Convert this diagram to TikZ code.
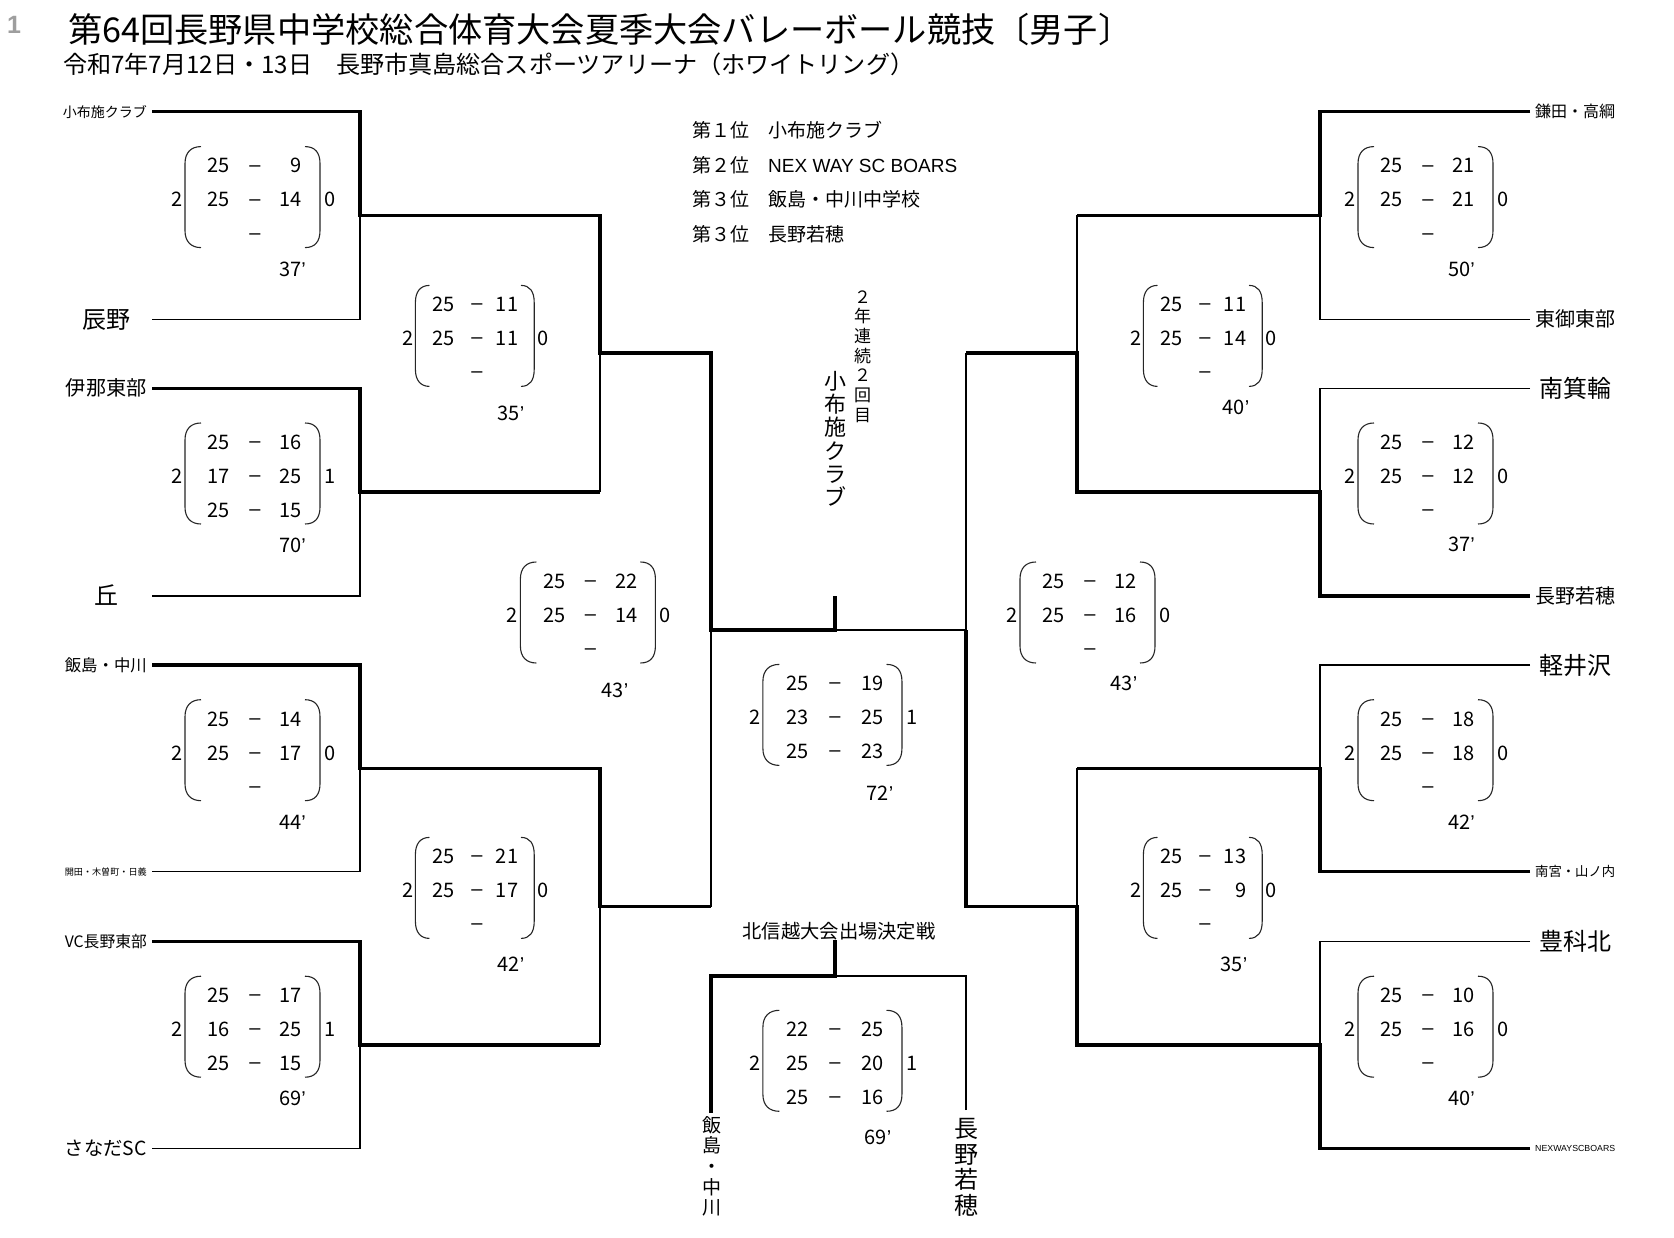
\documentclass[tikz,border=0pt]{standalone}
\usepackage{fontspec}
\usepackage{graphicx}
\setmainfont{Noto Sans CJK JP}
\newfontfamily\latf{Liberation Sans}
\newcommand\cstrut{\rule[-0.12em]{0pt}{1em}}
\newcommand\fitw[2]{\resizebox{#1}{!}{\cstrut#2}}
\newcommand\fsz[1]{\fontsize{#1}{#1}\selectfont}
% score block: #1 name, #2 x, #3 y, #4 width factor, #5 left, #6 right, #7 rows, #8 time pos, #9 time
\newcommand\blk[9]{%
\begin{scope}[shift={(#2,#3)}]
\draw[paren] ({-54*#4},-53) .. controls ({-64*#4},-53) and ({-70*#4},-47) .. ({-70*#4},-36) -- ({-70*#4},31) .. controls ({-70*#4},42) and ({-64*#4},48) .. ({-54*#4},48);
\draw[paren] ({50*#4},-53) .. controls ({60*#4},-53) and ({65*#4},-47) .. ({65*#4},-36) -- ({65*#4},31) .. controls ({65*#4},42) and ({60*#4},48) .. ({50*#4},48);
\node[num] (#1-L) at ({-78*#4},0) {#5};
\node[num] (#1-R) at ({75*#4},0) {#6};
\foreach \a/\b [count=\i] in {#7} {
 \node[num,anchor=east] (#1-a\i) at ({-25*#4},{(\i-2)*34}) {\a};
 \node[num] (#1-d\i) at (0,{(\i-2)*34}) {{\latf\raisebox{1.8pt}{–}}};
 \node[num,anchor=east] (#1-b\i) at ({47*#4},{(\i-2)*34}) {\b};
}
\end{scope}
\node[num] (#1-t) at (#8) {#9{\latf ’}};
}
% vertical text: #1 name, #2 x, #3 first y, #4 pitch, #5 size, #6 chars
\newcommand\vtext[6]{%
\foreach \c [count=\i] in {#6} {\node[inner sep=0pt, font=\fsz{#5}] (#1-\i) at (#2,{#3+(\i-1)*#4}) {\cstrut\c};}
}
\begin{document}
\begin{tikzpicture}[x=1pt,y=-1pt,
  thk/.style={line width=3.4pt, line join=miter},
  thn/.style={line width=1.5pt, line join=miter},
  paren/.style={line width=1.1pt, black!85},
  num/.style={inner sep=0pt, font=\fsz{20}, text height=14.6pt, text depth=0pt},
  lbl/.style={inner sep=0pt, font=\fsz{20}},
  big/.style={inner sep=0pt, font=\fsz{24}},
  rk/.style={inner sep=0pt, font=\fsz{19}, anchor=west},
]
\fill[white] (0,0) rectangle (1674,1238);
\useasboundingbox (0,0) rectangle (1674,1238);

% ---- header
\node[inner sep=0pt, font=\fsz{25}, text=black!38] (pageno) at (14,25) {{\latf\bfseries 1}};
\node[inner sep=0pt, anchor=west, font=\fsz{34}] (title) at (68,30) {\fitw{1064pt}{第64回長野県中学校総合体育大会夏季大会バレーボール競技〔男子〕}};
\node[inner sep=0pt, anchor=west, font=\fsz{24}] (subtitle) at (63,64) {\fitw{851pt}{令和7年7月12日・13日　長野市真島総合スポーツアリーナ（ホワイトリング）}};

% ---- rankings
\node[rk] (r1a) at (692.7,130) {\cstrut 第１位};
\node[rk] (r1b) at (768,130) {\cstrut 小布施クラブ};
\node[rk] (r2a) at (692.7,165.5) {\cstrut 第２位};
\node[rk] (r2b) at (768,165.5) {\cstrut{\latf NEX WAY SC BOARS}};
\node[rk] (r3a) at (692.7,199.6) {\cstrut 第３位};
\node[rk] (r3b) at (768,199.6) {\cstrut 飯島・中川中学校};
\node[rk] (r4a) at (692.7,233.8) {\cstrut 第３位};
\node[rk] (r4b) at (768,233.8) {\cstrut 長野若穂};

% ---- coordinates
\foreach \n/\y in {1/111.7,2/319.3,3/388.3,4/595.8,5/665,6/871.7,7/941.7,8/1148.3}{
  \coordinate (LT\n) at (152,\y); \coordinate (LC\n) at (360,\y);
  \coordinate (RT\n) at (1530,\y); \coordinate (RC\n) at (1320,\y);
}
\foreach \n/\y in {1/215.5,2/492,3/768.3,4/1045}{
  \coordinate (LJ\n) at (360,\y); \coordinate (LK\n) at (600,\y);
  \coordinate (RJ\n) at (1320,\y); \coordinate (RK\n) at (1077,\y);
}
\foreach \n/\y in {1/353,2/906.7}{
  \coordinate (LQ\n) at (600,\y); \coordinate (LS\n) at (711,\y);
  \coordinate (RQ\n) at (1077,\y); \coordinate (RS\n) at (966,\y);
}
\coordinate (LSJ) at (711,630);
\coordinate (RSJ) at (966,630);
\coordinate (FJ) at (835,630);
\coordinate (FT) at (835,596);
\coordinate (BL) at (711,1113);
\coordinate (BLc) at (711,976);
\coordinate (BJ) at (835,976);
\coordinate (BT) at (835,940);
\coordinate (BRc) at (966,976);
\coordinate (BR) at (966,1110);

% ---- thin lines
\draw[thn] (LT2) -- (LC2) -- (LJ1);
\draw[thn] (LT4) -- (LC4) -- (LJ2);
\draw[thn] (LT6) -- (LC6) -- (LJ3);
\draw[thn] (LT8) -- (LC8) -- (LJ4);
\draw[thn] (LK2) -- (LQ1);
\draw[thn] (LK4) -- (LQ2);
\draw[thn] (LS2) -- (LSJ);
\draw[thn] (RT2) -- (RC2) -- (RJ1);
\draw[thn] (RT3) -- (RC3) -- (RJ2);
\draw[thn] (RT5) -- (RC5) -- (RJ3);
\draw[thn] (RT7) -- (RC7) -- (RJ4);
\draw[thn] (RK1) -- (RQ1);
\draw[thn] (RK3) -- (RQ2);
\draw[thn] (RS1) -- (RSJ) -- (FJ);
\draw[thn] (BR) -- (BRc) -- (BJ);
% ---- thick (winners)
\draw[thk] (LT1) -- (LC1) -- (LJ1) -- (LK1) -- (LQ1) -- (LS1) -- (LSJ) -- (FJ) -- (FT);
\draw[thk] (LT3) -- (LC3) -- (LJ2) -- (LK2);
\draw[thk] (LT5) -- (LC5) -- (LJ3) -- (LK3) -- (LQ2) -- (LS2);
\draw[thk] (LT7) -- (LC7) -- (LJ4) -- (LK4);
\draw[thk] (RT1) -- (RC1) -- (RJ1) -- (RK1);
\draw[thk] (RT4) -- (RC4) -- (RJ2) -- (RK2) -- (RQ1) -- (RS1);
\draw[thk] (RT6) -- (RC6) -- (RJ3) -- (RK3);
\draw[thk] (RT8) -- (RC8) -- (RJ4) -- (RK4) -- (RQ2) -- (RS2) -- (RSJ);
\draw[thk] (BL) -- (BLc) -- (BJ) -- (BT);

% ---- team labels left
\node[lbl, anchor=east] (tL1) at (147,111.7) {\fitw{84pt}{小布施クラブ}};
\node[big] (tL2) at (106.5,319.3) {\cstrut 辰野};
\node[lbl, anchor=east] (tL3) at (147,388.3) {\fitw{81pt}{伊那東部}};
\node[big] (tL4) at (106,595.8) {\cstrut 丘};
\node[lbl, anchor=east] (tL5) at (147,665) {\fitw{82pt}{飯島・中川}};
\node[lbl, anchor=east] (tL6) at (147,871.7) {\fitw{82pt}{開田・木曽町・日義}};
\node[lbl, anchor=east] (tL7) at (147,941.7) {\fitw{82pt}{VC長野東部}};
\node[lbl, anchor=east] (tL8) at (147,1148.3) {\fitw{82pt}{さなだSC}};
% ---- team labels right
\node[lbl, anchor=west] (tR1) at (1535,111.7) {\fitw{80pt}{鎌田・高綱}};
\node[lbl, anchor=west] (tR2) at (1535,319.3) {\fitw{80pt}{東御東部}};
\node[big] (tR3) at (1575,388.3) {\cstrut 南箕輪};
\node[lbl, anchor=west] (tR4) at (1535,595.8) {\fitw{80pt}{長野若穂}};
\node[big] (tR5) at (1575,665) {\cstrut 軽井沢};
\node[lbl, anchor=west] (tR6) at (1535,871.7) {\fitw{80pt}{南宮・山ノ内}};
\node[big] (tR7) at (1575,941.7) {\cstrut 豊科北};
\node[lbl, anchor=west] (tR8) at (1535,1148.3) {\fitw{80pt}{\latf NEXWAYSCBOARS}};

% ---- score blocks
\blk{L1}{255}{199.6}{1}{2}{0}{25/9,25/14,{}/{}}{292.5,269}{37}
\blk{L2}{255}{476}{1}{2}{1}{25/16,17/25,25/15}{292.5,545}{70}
\blk{L3}{255}{752.7}{1}{2}{0}{25/14,25/17,{}/{}}{292.5,822}{44}
\blk{L4}{255}{1029.2}{1}{2}{1}{25/17,16/25,25/15}{292.5,1098.5}{69}
\blk{LQa}{477}{338.4}{0.88}{2}{0}{25/11,25/11,{}/{}}{511,413}{35}
\blk{LQb}{477}{890.4}{0.88}{2}{0}{25/21,25/17,{}/{}}{511,964}{42}
\blk{LSm}{590.4}{615}{1}{2}{0}{25/22,25/14,{}/{}}{615,690}{43}
\blk{Fin}{835}{717.4}{1.03}{2}{1}{25/19,23/25,25/23}{880,793}{72}
\blk{Brz}{835}{1063.3}{1.03}{2}{1}{22/25,25/20,25/16}{878,1137}{69}
\blk{RSm}{1090}{615}{1}{2}{0}{25/12,25/16,{}/{}}{1124,683}{43}
\blk{RQa}{1205}{338.4}{0.88}{2}{0}{25/11,25/14,{}/{}}{1236,407}{40}
\blk{RQb}{1205}{890.4}{0.88}{2}{0}{25/13,25/9,{}/{}}{1234,964}{35}
\blk{R1}{1428}{199.6}{1}{2}{0}{25/21,25/21,{}/{}}{1461.5,269}{50}
\blk{R2}{1428}{476}{1}{2}{0}{25/12,25/12,{}/{}}{1461.5,544.5}{37}
\blk{R3}{1428}{752.7}{1}{2}{0}{25/18,25/18,{}/{}}{1461.5,822}{42}
\blk{R4}{1428}{1029.2}{1}{2}{0}{25/10,25/16,{}/{}}{1461.5,1098.5}{40}

% ---- centre texts
\vtext{champ}{835}{381}{23.3}{22}{小,布,施,ク,ラ,ブ}
\vtext{streak}{862.6}{296.7}{19.7}{17}{２,年,連,続,２,回,目}
\node[inner sep=0pt, font=\fsz{19.3}] (hokushin) at (839,930.7) {\cstrut 北信越大会出場決定戦};
\vtext{bzL}{711.7}{1125}{20.6}{19}{飯,島,・,中,川}
\vtext{bzR}{966}{1128.5}{25.5}{24}{長,野,若,穂}
\end{tikzpicture}
\end{document}
